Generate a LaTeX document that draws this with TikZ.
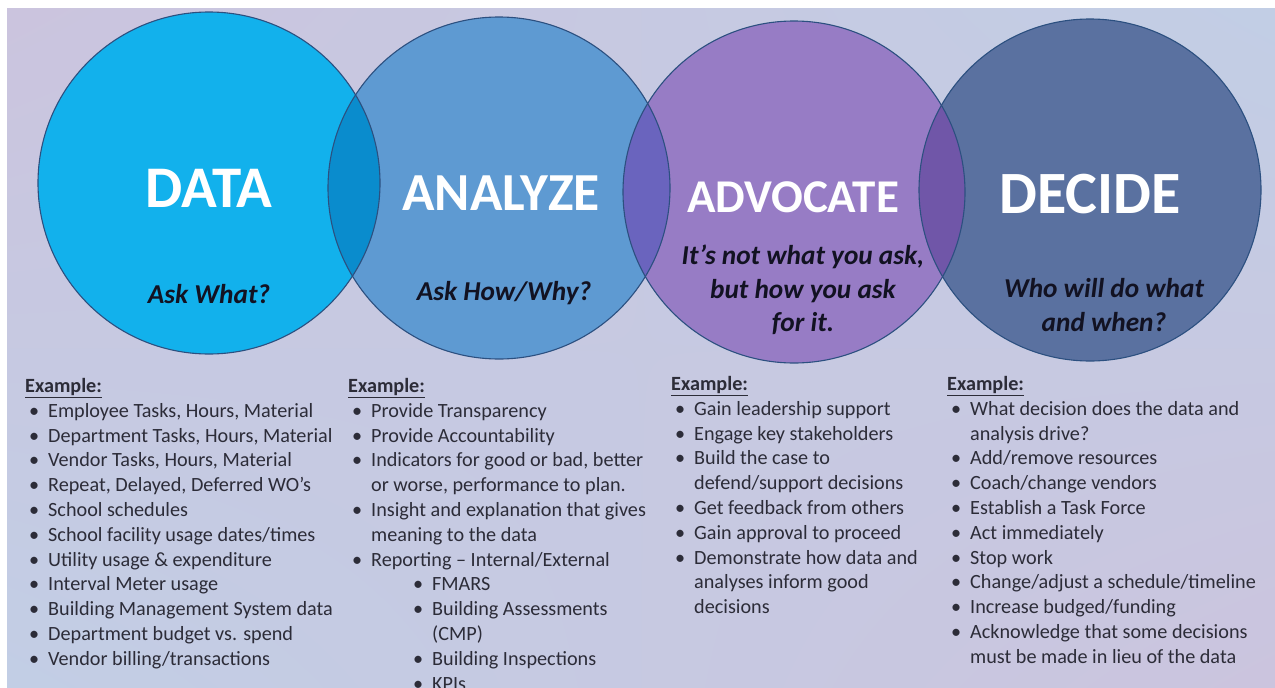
\documentclass[tikz,border=0pt]{standalone}
\usepackage{fontspec}
\setmainfont{Carlito}
\usetikzlibrary{shadings}
\begin{document}
\definecolor{bgLav}{RGB}{203,196,222}
\definecolor{bgBlue}{RGB}{194,206,229}
\definecolor{dataFill}{RGB}{18,177,236}
\definecolor{anaFill}{RGB}{94,154,210}
\definecolor{advFill}{RGB}{151,124,197}
\definecolor{decFill}{RGB}{90,113,160}
\definecolor{lensDA}{RGB}{10,140,205}
\definecolor{lensAA}{RGB}{106,100,190}
\definecolor{lensAD}{RGB}{112,86,168}
\definecolor{ringCol}{RGB}{44,80,128}
\definecolor{subCol}{RGB}{18,18,34}
\definecolor{listCol}{RGB}{44,44,56}
\newcommand{\itm}{\makebox[23pt][l]{\hspace*{4pt}•}}
\newcommand{\cont}{\hspace*{23pt}}
\newcommand{\subitm}{\hspace*{61pt}\itm}
\newcommand{\subcont}{\hspace*{84pt}}
\newcommand{\ex}{\strut\underline{\textbf{Example:}}}
\begin{tikzpicture}[x=1pt,y=-1pt,
  ring/.style={circle,minimum size=342pt,inner sep=0pt,draw=ringCol,line width=1.1pt},
  title/.style={text=white,font=\bfseries\fontsize{#1}{#1}\selectfont,inner sep=0pt},
  subtitle/.style={text=subCol,align=center,inner sep=0pt,
    font=\bfseries\itshape\fontsize{27.3}{33.5}\selectfont},
  listtext/.style={anchor=north west,inner sep=0pt,align=left,text=listCol,
    font=\fontsize{20.2}{24.8}\selectfont}]
% canvas
\useasboundingbox (0,0) rectangle (1275,688);
\fill[white] (0,0) rectangle (1275,688);
\shade[upper left=bgLav,upper right=bgBlue,lower left=bgBlue,lower right=bgLav]
  (7,8) rectangle (1275,688);
% the four circles (fills)
\node[ring,draw=none,fill=dataFill] (data) at (209,183) {};
\node[ring,draw=none,fill=anaFill] (analyze) at (499,188) {};
\node[ring,draw=none,fill=advFill] (advocate) at (794,192) {};
\node[ring,draw=none,fill=decFill] (decide) at (1090,190) {};
% overlapping lenses
\begin{scope}
  \clip (data.center) circle[radius=171pt];
  \fill[lensDA] (analyze.center) circle[radius=171pt];
\end{scope}
\begin{scope}
  \clip (analyze.center) circle[radius=171pt];
  \fill[lensAA] (advocate.center) circle[radius=171pt];
\end{scope}
\begin{scope}
  \clip (advocate.center) circle[radius=171pt];
  \fill[lensAD] (decide.center) circle[radius=171pt];
\end{scope}
% outlines on top
\foreach \c in {data,analyze,advocate,decide}
  \draw[ringCol,line width=1.1pt] (\c.center) circle[radius=171pt];
% titles
\node[title=59] (tData) at (209,188) {DATA};
\node[title=53.5] (tAna) at (501,193) {ANALYZE};
\node[title=47] (tAdv) at (793,197) {ADVOCATE};
\node[title=60] (tDec) at (1090,194) {DECIDE};
% subtitles
\node[subtitle] (sData) at (209,294) {Ask What?};
\node[subtitle] (sAna) at (504,293) {Ask How/Why?};
\node[subtitle] (sAdv) at (803,290) {It’s not what you ask,\\but how you ask\\for it.};
\node[subtitle] (sDec) at (1104,305) {Who will do what\\and when?};
% example lists
\node[listtext] (lData) at (25,375) {\ex\\
\itm Employee Tasks, Hours, Material\\
\itm Department Tasks, Hours, Material\\
\itm Vendor Tasks, Hours, Material\\
\itm Repeat, Delayed, Deferred WO’s\\
\itm School schedules\\
\itm School facility usage dates/times\\
\itm Utility usage \& expenditure\\
\itm Interval Meter usage\\
\itm Building Management System data\\
\itm Department budget vs. spend\\
\itm Vendor billing/transactions};
\node[listtext] (lAna) at (348,375) {\ex\\
\itm Provide Transparency\\
\itm Provide Accountability\\
\itm Indicators for good or bad, better\\
\cont or worse, performance to plan.\\
\itm Insight and explanation that gives\\
\cont meaning to the data\\
\itm Reporting – Internal/External\\
\subitm FMARS\\
\subitm Building Assessments\\
\subcont (CMP)\\
\subitm Building Inspections\\
\subitm KPIs};
\node[listtext] (lAdv) at (671,373) {\ex\\
\itm Gain leadership support\\
\itm Engage key stakeholders\\
\itm Build the case to\\
\cont defend/support decisions\\
\itm Get feedback from others\\
\itm Gain approval to proceed\\
\itm Demonstrate how data and\\
\cont analyses inform good\\
\cont decisions};
\node[listtext] (lDec) at (947,373) {\ex\\
\itm What decision does the data and\\
\cont analysis drive?\\
\itm Add/remove resources\\
\itm Coach/change vendors\\
\itm Establish a Task Force\\
\itm Act immediately\\
\itm Stop work\\
\itm Change/adjust a schedule/timeline\\
\itm Increase budged/funding\\
\itm Acknowledge that some decisions\\
\cont must be made in lieu of the data};
\end{tikzpicture}
\end{document}
